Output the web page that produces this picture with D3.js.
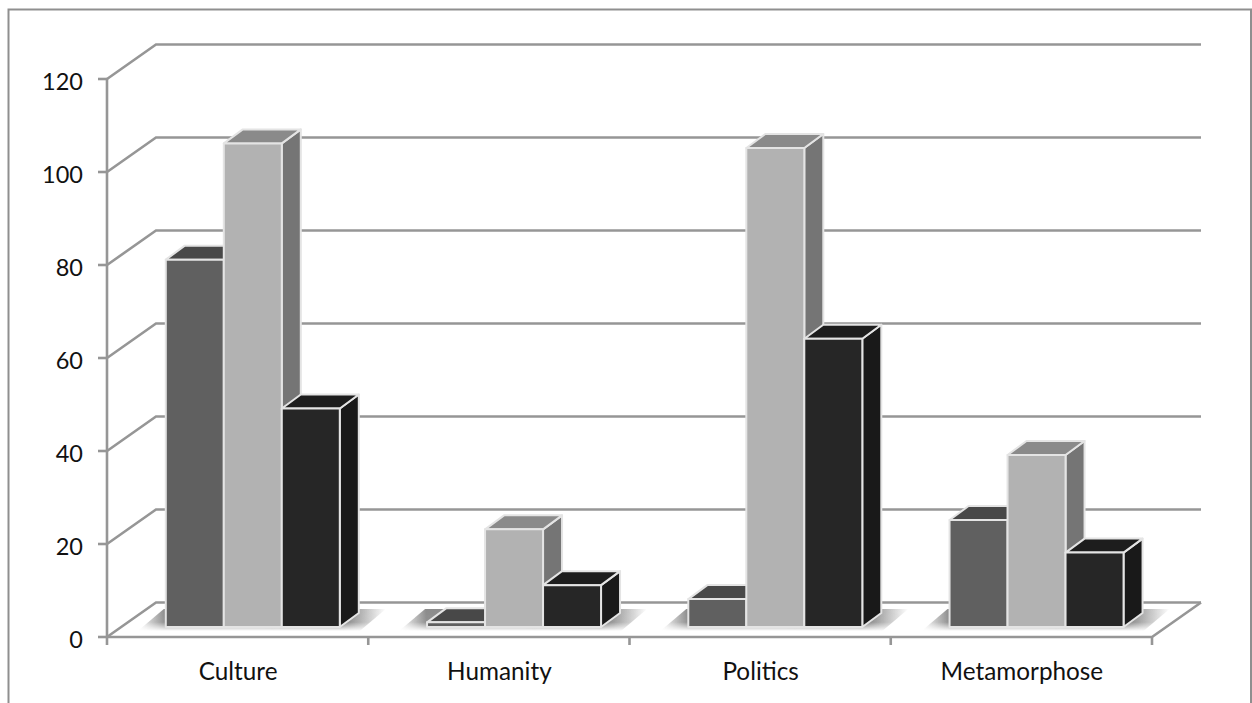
<!DOCTYPE html>
<html>
<head>
<meta charset="utf-8">
<script src="https://cdnjs.cloudflare.com/ajax/libs/d3/7.8.5/d3.min.js"></script>
<style>
html,body{margin:0;padding:0;background:#fff;overflow:hidden}
svg{display:block}
text{font-family:Lato,"Open Sans",sans-serif;fill:#111}
</style>
</head>
<body>
<svg id="chart" width="1252" height="703"></svg>
<script>
// Survey counts per theme, three unnamed series
const categories = ["Culture", "Humanity", "Politics", "Metamorphose"];
const seriesA = [79, 1, 6, 23];
const seriesB = [104, 21, 103, 37];
const seriesC = [47, 9, 62, 16];
const yTicks = [0, 20, 40, 60, 80, 100, 120];

const faceFill = [
  {front: "#606060", top: "#484848", side: "#444444"},
  {front: "#b2b2b2", top: "#8a8a8a", side: "#757575"},
  {front: "#262626", top: "#1d1d1d", side: "#191919"}
];

const svg = d3.select("#chart");
const axisColor = "#969696";

// Front plane of the plot box, plus the offset to its back wall
const x = d3.scaleBand().domain(categories).range([107, 1152]);
const y = d3.scaleLinear().domain([0, 120]).range([637, 79]);
const wall = {dx: 49, dy: -34.5};

// Columns stand inside the box on a base line raised above the front edge
const baseLift = y(0) - 627;
const barW = 58, barDx = 19, barDy = -14, barInset = 58.8;

// Outer frame: left, top and right rules, open at the bottom
svg.append("path")
  .attr("d", "M8.5,703V9.5H1251V703")
  .attr("fill", "none").attr("stroke", "#8f8f8f").attr("stroke-width", 2);

// Soft floor shadow: fades sideways, and towards the front of the floor
const defs = svg.append("defs");
const sideFade = defs.append("linearGradient").attr("id", "shadowH");
[[0, 0], [0.11, 0.8], [0.5, 0.8], [0.82, 0.95], [1, 0]]
  .forEach(s => sideFade.append("stop").attr("offset", s[0]).attr("stop-color", "#6e6e6e").attr("stop-opacity", s[1]));
const depthFade = defs.append("linearGradient").attr("id", "shadowV")
  .attr("x1", 0).attr("x2", 0).attr("y1", 0).attr("y2", 1);
[[0, 1], [0.6, 0.95], [1, 0]]
  .forEach(s => depthFade.append("stop").attr("offset", s[0]).attr("stop-color", "#fff").attr("stop-opacity", s[1]));
defs.append("mask").attr("id", "shadowMask")
  .attr("maskContentUnits", "objectBoundingBox")
  .append("rect").attr("width", 1).attr("height", 1).attr("fill", "url(#shadowV)");

// Walls: gridlines on the back, diagonals on the left side
const gridG = svg.append("g").attr("fill", "none").attr("stroke", axisColor).attr("stroke-width", 2.6);
gridG.selectAll("path.grid").data(yTicks).join("path").attr("class", "grid")
  .attr("d", t => `M${x.range()[0]},${y(t)}L${x.range()[0] + wall.dx},${y(t) + wall.dy}H${x.range()[1] + wall.dx}`);
// Floor front edge and right diagonal
gridG.append("path")
  .attr("d", `M${x.range()[0]},${y(0)}H${x.range()[1]}L${x.range()[1] + wall.dx},${y(0) + wall.dy}`);

// Axis rules and tick marks
const axisG = svg.append("g").attr("stroke", axisColor).attr("stroke-width", 2.6).attr("fill", "none");
axisG.append("line").attr("x1", x.range()[0]).attr("x2", x.range()[0]).attr("y1", y(120)).attr("y2", y(0) + 8);
axisG.selectAll("line.yt").data(yTicks).join("line").attr("class", "yt")
  .attr("x1", x.range()[0] - 9).attr("x2", x.range()[0]).attr("y1", t => y(t)).attr("y2", t => y(t));
axisG.selectAll("line.xt").data(categories).join("line").attr("class", "xt")
  .attr("x1", c => x(c) + x.bandwidth())
  .attr("x2", c => x(c) + x.bandwidth())
  .attr("y1", y(0)).attr("y2", y(0) + 8);

// Tick labels
svg.append("g").selectAll("text").data(yTicks).join("text")
  .attr("x", 83).attr("y", t => y(t) + 10.5).attr("text-anchor", "end")
  .attr("font-size", 23.5).text(d => d);
svg.append("g").selectAll("text").data(categories).join("text")
  .attr("x", c => x(c) + x.bandwidth() / 2 + 0.5).attr("y", 680).attr("text-anchor", "middle")
  .attr("font-size", 24.3).text(d => d);

// Floor shadow under every cluster
const groupRows = categories.map((c, i) => ({c, vals: [seriesA[i], seriesB[i], seriesC[i]]}));
const base = y(0) - baseLift;
svg.append("g").selectAll("path").data(groupRows).join("path")
  .attr("d", d => {
    const l = x(d.c) + barInset, r = l + 3 * barW;
    return `M${l - 28},${base + 4}L${l - 2},${base - 18}H${r + 46}L${r + 20},${base + 4}Z`;
  })
  .attr("fill", "url(#shadowH)").attr("mask", "url(#shadowMask)");

// Columns: three faces each, painted left to right so neighbours overlap properly
const groups = svg.append("g").selectAll("g").data(groupRows).join("g");
groups.each(function(d) {
  const g = d3.select(this);
  d.vals.forEach((v, s) => {
    const l = x(d.c) + barInset + s * barW, r = l + barW;
    const t = y(v) - baseLift;
    const col = faceFill[s];
    const bar = g.append("g").attr("stroke", "#e4e4e4").attr("stroke-width", 2).attr("stroke-linejoin", "round");
    bar.append("path").attr("fill", col.side)
      .attr("d", `M${r},${t}L${r + barDx},${t + barDy}V${base + barDy}L${r},${base}Z`);
    bar.append("path").attr("fill", col.top)
      .attr("d", `M${l},${t}L${l + barDx},${t + barDy}H${r + barDx}L${r},${t}Z`);
    bar.append("rect").attr("fill", col.front)
      .attr("x", l).attr("y", t).attr("width", barW).attr("height", base - t);
  });
});
</script>
</body>
</html>
